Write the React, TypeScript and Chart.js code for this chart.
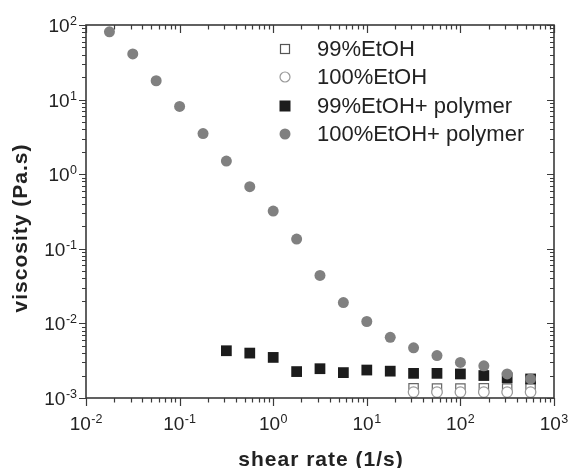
import React, { useEffect, useRef } from "react";
import { Chart, registerables } from "chart.js";
Chart.register(...registerables);

// shear rate (1/s)
const shearRate = [0.0178, 0.0316, 0.0562, 0.1, 0.178, 0.316, 0.562, 1, 1.78, 3.16, 5.62, 10, 17.8, 31.6, 56.2, 100, 178, 316, 562];
// viscosity (Pa.s)
const eth100Polymer = [81, 41, 17.9, 8.1, 3.5, 1.5, 0.68, 0.32, 0.135, 0.044, 0.019, 0.0106, 0.0065, 0.0047, 0.0037, 0.003, 0.0027, 0.0021, 0.0018];
const eth99PolymerRate = shearRate.slice(5);
const eth99Polymer = [0.0043, 0.004, 0.0035, 0.00226, 0.00247, 0.00219, 0.00237, 0.00229, 0.00214, 0.00214, 0.0021, 0.002, 0.00187, 0.0018];
const neatRate = shearRate.slice(13);
const eth99 = [0.00135, 0.00134, 0.00134, 0.00135, 0.00134, 0.00135];
const eth100 = [0.0012, 0.0012, 0.0012, 0.0012, 0.0012, 0.0012];

const xExps = [-2, -1, 0, 1, 2, 3];
const yExps = [-3, -2, -1, 0, 1, 2];
const legendLabels = ["99%EtOH", "100%EtOH", "99%EtOH+ polymer", "100%EtOH+ polymer"];

const pts = (xs: number[], ys: number[]) => ys.map((y, i) => ({ x: xs[i], y }));

const FONT = '"Liberation Sans", Arial, sans-serif';
const AXIS_COLOR = "#3a3a3a";
const TEXT_COLOR = "#222";

function drawPow(ctx: CanvasRenderingContext2D, exp: number, x: number, y: number, align: "center" | "right") {
  ctx.save();
  ctx.fillStyle = TEXT_COLOR;
  ctx.textAlign = "left";
  ctx.textBaseline = "alphabetic";
  const base = "10";
  const sup = String(exp);
  ctx.font = `19px ${FONT}`;
  const wb = ctx.measureText(base).width;
  ctx.font = `12.5px ${FONT}`;
  const ws = ctx.measureText(sup).width;
  const total = wb + ws + 0.5;
  const start = align === "center" ? x - total / 2 : x - total;
  ctx.font = `19px ${FONT}`;
  ctx.fillText(base, start, y);
  ctx.font = `12.5px ${FONT}`;
  ctx.fillText(sup, start + wb + 0.5, y - 7);
  ctx.restore();
}

const framePlugin = {
  id: "frame",
  afterDraw(chart: any) {
    const ctx: CanvasRenderingContext2D = chart.ctx;
    const xs = chart.scales.x;
    const ys = chart.scales.y;
    const { left, right, top, bottom } = chart.chartArea;
    ctx.save();
    ctx.strokeStyle = AXIS_COLOR;
    ctx.lineWidth = 1.6;
    ctx.strokeRect(left, top, right - left, bottom - top);

    ctx.lineWidth = 1.2;
    ctx.beginPath();
    // x ticks
    for (let e = -2; e <= 3; e++) {
      for (let m = 1; m <= 9; m++) {
        const v = m * Math.pow(10, e);
        if (v > 1000.0001) continue;
        const px = Math.round(xs.getPixelForValue(v)) + 0.5;
        const major = m === 1;
        const lenOut = major ? 8 : 4.5;
        const lenIn = major ? 8 : 4.5;
        ctx.moveTo(px, bottom);
        ctx.lineTo(px, bottom + lenOut);
        ctx.moveTo(px, top);
        ctx.lineTo(px, top + lenIn);
      }
    }
    // y ticks
    for (let e = -3; e <= 2; e++) {
      for (let m = 1; m <= 9; m++) {
        const v = m * Math.pow(10, e);
        if (v > 100.0001) continue;
        const py = Math.round(ys.getPixelForValue(v)) + 0.5;
        const major = m === 1;
        const len = major ? 7 : 4;
        ctx.moveTo(left, py);
        ctx.lineTo(left - len, py);
        ctx.moveTo(right, py);
        ctx.lineTo(right - (major ? 7 : 4), py);
      }
    }
    ctx.stroke();
    ctx.restore();

    // tick labels
    xExps.forEach((e) => drawPow(ctx, e, xs.getPixelForValue(Math.pow(10, e)), bottom + 32, "center"));
    yExps.forEach((e) => drawPow(ctx, e, left - 9, ys.getPixelForValue(Math.pow(10, e)) + 7, "right"));

    // axis titles
    ctx.save();
    ctx.fillStyle = TEXT_COLOR;
    ctx.font = `bold 21px ${FONT}`;
    (ctx as any).letterSpacing = "1px";
    ctx.textAlign = "center";
    ctx.textBaseline = "alphabetic";
    ctx.fillText("shear rate (1/s)", 321, 466);
    ctx.translate(27, 228);
    ctx.rotate(-Math.PI / 2);
    ctx.fillText("viscosity (Pa.s)", 0, 0);
    ctx.restore();

    // legend
    ctx.save();
    const lx = 285;
    const rows = [49, 77, 106, 134];
    ctx.font = `22px ${FONT}`;
    ctx.fillStyle = TEXT_COLOR;
    ctx.textAlign = "left";
    ctx.textBaseline = "middle";
    legendLabels.forEach((t, i) => ctx.fillText(t, 317, rows[i] + 1));
    // open square
    ctx.lineWidth = 1.2;
    ctx.strokeStyle = "#555";
    ctx.fillStyle = "#fff";
    ctx.fillRect(lx - 4.5, rows[0] - 4.5, 9, 9);
    ctx.strokeRect(lx - 4.5, rows[0] - 4.5, 9, 9);
    // open circle
    ctx.strokeStyle = "#999";
    ctx.beginPath();
    ctx.arc(lx, rows[1], 5, 0, Math.PI * 2);
    ctx.fill();
    ctx.stroke();
    // filled square
    ctx.fillStyle = "#1c1c1c";
    ctx.fillRect(lx - 5.5, rows[2] - 5.5, 11, 11);
    // gray circle
    ctx.fillStyle = "#808080";
    ctx.beginPath();
    ctx.arc(lx, rows[3], 5.5, 0, Math.PI * 2);
    ctx.fill();
    ctx.restore();
  },
};

export default function App() {
  const ref = useRef<HTMLCanvasElement>(null);
  useEffect(() => {
    const canvas = ref.current!;
    const chart = new Chart(canvas, {
      type: "scatter",
      data: {
        datasets: [
          {
            label: "100%EtOH+ polymer",
            data: pts(shearRate, eth100Polymer),
            pointStyle: "circle",
            pointRadius: 5.5,
            backgroundColor: "#808080",
            borderColor: "#808080",
            borderWidth: 0,
          },
          {
            label: "99%EtOH+ polymer",
            data: pts(eth99PolymerRate, eth99Polymer),
            pointStyle: "rect",
            pointRadius: 7.6,
            backgroundColor: "#1c1c1c",
            borderColor: "#1c1c1c",
            borderWidth: 0,
          },
          {
            label: "100%EtOH",
            data: pts(neatRate, eth100),
            pointStyle: "circle",
            pointRadius: 5.3,
            backgroundColor: "#ffffff",
            borderColor: "#999999",
            borderWidth: 1.2,
          },
          {
            label: "99%EtOH",
            data: pts(neatRate, eth99),
            pointStyle: "rect",
            pointRadius: 6.6,
            backgroundColor: "#ffffff",
            borderColor: "#666666",
            borderWidth: 1.2,
          },
        ],
      },
      options: {
        responsive: false,
        animation: false,
        clip: false as any,
        layout: { padding: { left: 86, right: 16, top: 25, bottom: 70 } },
        scales: {
          x: { type: "logarithmic", min: 0.01, max: 1000, display: false },
          y: { type: "logarithmic", min: 0.001, max: 100, display: false },
        },
        plugins: { legend: { display: false }, tooltip: { enabled: false } },
      },
      plugins: [framePlugin],
    });
    return () => chart.destroy();
  }, []);
  return (
    <div style={{ position: "fixed", left: 0, top: 0, width: 570, height: 468, background: "#fff" }}>
      <canvas ref={ref} width={570} height={468} style={{ display: "block" }} />
    </div>
  );
}
